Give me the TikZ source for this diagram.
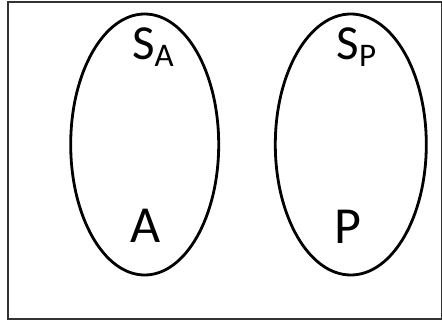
\documentclass[tikz,border=0pt]{standalone}
\usepackage{fontspec}
\setmainfont{Carlito}
\begin{document}
\begin{tikzpicture}[x=1pt,y=-1pt,
  setshape/.style={draw=black,line width=2.8pt},
  frame/.style={draw=black!80,line width=2pt},
  biglabel/.style={inner sep=0pt,anchor=base,font=\fontsize{52}{52}\selectfont},
  setlabel/.style={inner sep=0pt,anchor=base}]
\useasboundingbox (0,0) rectangle (442,323);
\draw[frame] (7.5,2.5) rectangle (441.5,318.5);
\draw[setshape] (144.7,144.5) ellipse [x radius=74, y radius=130.5];
\draw[setshape] (350.8,144.5) ellipse [x radius=75.5, y radius=130.5];
\node[setlabel] (sa) at (153,59.5) {{\fontsize{49}{49}\selectfont S}\raisebox{-7pt}{\fontsize{33}{33}\selectfont A}};
\node[setlabel] (sp) at (356.5,59.5) {{\fontsize{49}{49}\selectfont S}\raisebox{-7pt}{\fontsize{33}{33}\selectfont P}};
\node[biglabel] (a) at (146,243) {A};
\node[biglabel] (p) at (347.5,244) {P};
\end{tikzpicture}
\end{document}
